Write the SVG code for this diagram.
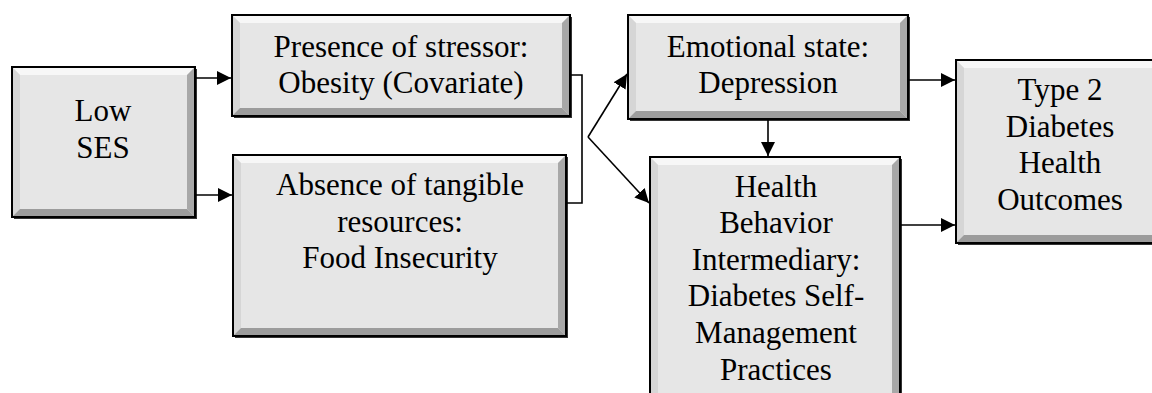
<svg xmlns="http://www.w3.org/2000/svg" width="1152" height="393" viewBox="0 0 1152 393">
<defs>
<marker id="arr" markerUnits="userSpaceOnUse" markerWidth="14" markerHeight="14" refX="14" refY="7" orient="auto">
<path d="M0,0 L14,7 L0,14 z" fill="#000"/>
</marker>
</defs>
<style>
.face{fill:#e6e6e6}
.top{fill:#f7f7f7}
.left{fill:#d6d6d6}
.right{fill:#a8a8a8}
.bot{fill:#9c9c9c}
.frame{fill:none;stroke:#000;stroke-width:2}
.shadow{fill:#333}
.conn path{fill:none;stroke:#000;stroke-width:1.6}
</style>
<rect width="1152" height="393" fill="#fff"/>

<g font-family="Times New Roman, Liberation Serif, DejaVu Serif, serif" font-size="31" text-anchor="middle" fill="#000">
<g id="low-ses">
<rect class="shadow" x="14" y="69" width="183" height="150"/>
<rect class="face" x="12" y="67" width="183" height="150"/>
<polygon class="top" points="12,67 195,67 187,75 20,75"/>
<polygon class="left" points="12,67 20,75 20,209 12,217"/>
<polygon class="right" points="195,67 195,217 187,209 187,75"/>
<polygon class="bot" points="12,217 20,209 187,209 195,217"/>
<rect class="frame" x="12" y="67" width="183" height="150"/>
<text x="103" y="121">Low</text>
<text x="103" y="158">SES</text>
</g>

<g id="presence">
<rect class="shadow" x="234" y="17" width="338" height="101"/>
<rect class="face" x="232" y="15" width="338" height="101"/>
<polygon class="top" points="232,15 570,15 562,23 240,23"/>
<polygon class="left" points="232,15 240,23 240,108 232,116"/>
<polygon class="right" points="570,15 570,116 562,108 562,23"/>
<polygon class="bot" points="232,116 240,108 562,108 570,116"/>
<rect class="frame" x="232" y="15" width="338" height="101"/>
<text x="401" y="57">Presence of stressor:</text>
<text x="401" y="93">Obesity (Covariate)</text>
</g>

<g id="absence">
<rect class="shadow" x="235" y="157" width="333" height="181"/>
<rect class="face" x="233" y="155" width="333" height="181"/>
<polygon class="top" points="233,155 566,155 558,163 241,163"/>
<polygon class="left" points="233,155 241,163 241,328 233,336"/>
<polygon class="right" points="566,155 566,336 558,328 558,163"/>
<polygon class="bot" points="233,336 241,328 558,328 566,336"/>
<rect class="frame" x="233" y="155" width="333" height="181"/>
<text x="400" y="195">Absence of tangible</text>
<text x="400" y="232">resources:</text>
<text x="400" y="268">Food Insecurity</text>
</g>

<g id="emotional">
<rect class="shadow" x="630" y="17" width="280" height="104"/>
<rect class="face" x="628" y="15" width="280" height="104"/>
<polygon class="top" points="628,15 908,15 900,23 636,23"/>
<polygon class="left" points="628,15 636,23 636,111 628,119"/>
<polygon class="right" points="908,15 908,119 900,111 900,23"/>
<polygon class="bot" points="628,119 636,111 900,111 908,119"/>
<rect class="frame" x="628" y="15" width="280" height="104"/>
<text x="768" y="57">Emotional state:</text>
<text x="768" y="93">Depression</text>
</g>

<g id="health-behavior">
<rect class="shadow" x="652" y="159" width="250" height="250"/>
<rect class="face" x="650" y="157" width="250" height="250"/>
<polygon class="top" points="650,157 900,157 892,165 658,165"/>
<polygon class="left" points="650,157 658,165 658,399 650,407"/>
<polygon class="right" points="900,157 900,407 892,399 892,165"/>
<rect class="frame" x="650" y="157" width="250" height="250"/>
<text x="776" y="197">Health</text>
<text x="776" y="233">Behavior</text>
<text x="776" y="270">Intermediary:</text>
<text x="776" y="306">Diabetes Self-</text>
<text x="776" y="343">Management</text>
<text x="776" y="380">Practices</text>
</g>

<g id="type2">
<rect class="shadow" x="958" y="62" width="210" height="183"/>
<rect class="face" x="956" y="60" width="210" height="183"/>
<polygon class="top" points="956,60 1166,60 1158,68 964,68"/>
<polygon class="left" points="956,60 964,68 964,235 956,243"/>
<polygon class="right" points="1166,60 1166,243 1158,235 1158,68"/>
<polygon class="bot" points="956,243 964,235 1158,235 1166,243"/>
<rect class="frame" x="956" y="60" width="210" height="183"/>
<text x="1060" y="100">Type 2</text>
<text x="1060" y="137">Diabetes</text>
<text x="1060" y="173">Health</text>
<text x="1060" y="210">Outcomes</text>
</g>
</g>

<g id="connectors" class="conn">
<path d="M196,78 H231" marker-end="url(#arr)"/>
<path d="M196,195 H232" marker-end="url(#arr)"/>
<path d="M571,75 H582 V203 H567"/>
<path d="M588,137 L627,74" marker-end="url(#arr)"/>
<path d="M588,137 L649,203" marker-end="url(#arr)"/>
<path d="M768,120 V156" marker-end="url(#arr)"/>
<path d="M909,80 H955" marker-end="url(#arr)"/>
<path d="M901,225 H955" marker-end="url(#arr)"/>
</g>
</svg>
